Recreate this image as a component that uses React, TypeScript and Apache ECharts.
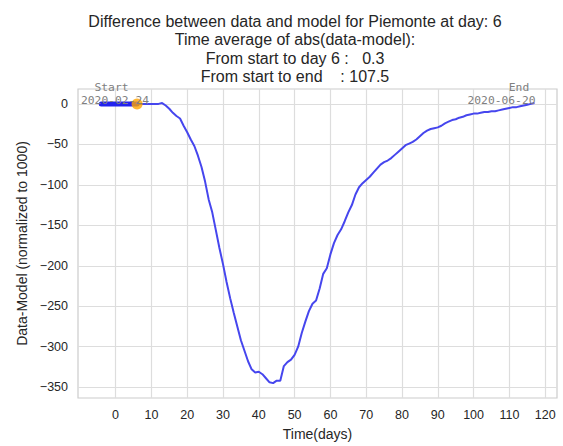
import React, { useEffect, useRef } from "react";
import * as echarts from "echarts";

const days: number[] = [];
for (let d = -4; d <= 117; d++) days.push(d);

const diffValues: number[] = [
  0, 0, 0, 0, 0, 0, 0, 0, 0, 0, // -4..5
  0, 0, 0, 0, 0, 0, 0, 1, -2, -6, // 6..15
  -11, -15, -18, -27, -35, -44, -52, -64, -78, -96, // 16..25
  -118, -134, -156, -178, -198, -220, -240, -258, -275, -292, // 26..35
  -305, -318, -328, -332, -331, -334, -339, -344, -345, -342, // 36..45
  -342, -324, -319, -316, -310, -300, -283, -269, -256, -247, // 46..55
  -243, -228, -210, -203, -186, -172, -162, -155, -145, -134, // 56..65
  -125, -112, -103, -98, -94, -90, -85, -80, -75, -72, // 66..75
  -70, -67, -63, -59, -55, -51, -49, -47, -44, -40, // 76..85
  -36, -33, -31, -30, -29, -27, -24, -22, -20, -19, // 86..95
  -17, -16, -14, -13, -12, -12, -11, -10, -10, -9, // 96..105
  -9, -8, -7, -6, -5, -4, -4, -3, -2, -1, // 106..115
  0, 1, // 116..117
];

const currentDay = 6;
const xTicks = [0, 10, 20, 30, 40, 50, 60, 70, 80, 90, 100, 110, 120];
const yTicks = [0, -50, -100, -150, -200, -250, -300, -350];
const titleLines = [
  "Difference between data and model for Piemonte at day: 6",
  "Time average of abs(data-model):",
  "From start to day 6 :   0.3",
  "From start to end    : 107.5",
];
const startLabels = ["Start", "2020-02-24"];
const endLabels = ["End", "2020-06-20"];

const FONT = "'Liberation Sans', Arial, sans-serif";
const MONO = "'DejaVu Sans Mono', monospace";

export default function App() {
  const ref = useRef<HTMLDivElement>(null);
  useEffect(() => {
    if (!ref.current) return;
    const chart = echarts.init(ref.current, undefined, { renderer: "svg" });
    const full = days.map((d, i) => [d, diffValues[i]]);
    const upto = full.filter((p) => p[0] <= currentDay);
    const dot = full.filter((p) => p[0] === currentDay);
    const titleY = [21, 39.5, 58, 76.5];
    chart.setOption({
      animation: false,
      backgroundColor: "#ffffff",
      grid: {
        left: 78,
        right: 6,
        top: 89,
        bottom: 44,
        show: true,
        borderColor: "#cccccc",
        borderWidth: 1.2,
        backgroundColor: "#ffffff",
      },
      xAxis: {
        type: "value",
        min: -10.5,
        max: 123.3,
        name: "Time(days)",
        nameLocation: "middle",
        nameGap: 29,
        nameTextStyle: { fontFamily: FONT, fontSize: 14, color: "#262626" },
        axisLine: { show: false },
        axisTick: { show: false, customValues: xTicks },
        axisLabel: {
          customValues: xTicks,
          fontFamily: FONT,
          fontSize: 12.5,
          color: "#262626",
          margin: 10,
        },
        splitLine: { show: true, lineStyle: { color: "#dddddd", width: 1.2 } },
      },
      yAxis: {
        type: "value",
        min: -363.4,
        max: 18.4,
        name: "Data-Model (normalized to 1000)",
        nameLocation: "middle",
        nameGap: 48,
        nameRotate: 90,
        nameTextStyle: { fontFamily: FONT, fontSize: 14, color: "#262626" },
        axisLine: { show: false },
        axisTick: { show: false, customValues: yTicks },
        axisLabel: {
          customValues: yTicks,
          fontFamily: FONT,
          fontSize: 12.5,
          color: "#262626",
          margin: 10,
          formatter: (v: number) => (v < 0 ? "\u2212" + Math.abs(v) : String(v)),
        },
        splitLine: { show: true, lineStyle: { color: "#dddddd", width: 1.2 } },
      },
      graphic: [
        ...titleLines.map((t, i) => ({
          type: "text",
          x: 295,
          y: titleY[i],
          style: {
            text: t,
            fontFamily: FONT,
            fontSize: 16,
            fill: "#262626",
            textAlign: "center",
            textVerticalAlign: "middle",
            whiteSpace: "pre",
          },
        })),
        {
          type: "text",
          x: 111.5,
          y: 87,
          z: 100,
          style: { text: startLabels[0], fontFamily: MONO, fontSize: 11.3, fill: "#808080", textAlign: "center", textVerticalAlign: "middle" },
        },
        {
          type: "text",
          x: 115,
          y: 100,
          z: 100,
          style: { text: startLabels[1], fontFamily: MONO, fontSize: 11.3, fill: "#808080", textAlign: "center", textVerticalAlign: "middle" },
        },
        {
          type: "text",
          x: 519,
          y: 87,
          z: 100,
          style: { text: endLabels[0], fontFamily: MONO, fontSize: 11.3, fill: "#808080", textAlign: "center", textVerticalAlign: "middle" },
        },
        {
          type: "text",
          x: 501.5,
          y: 100.5,
          z: 100,
          style: { text: endLabels[1], fontFamily: MONO, fontSize: 11.3, fill: "#808080", textAlign: "center", textVerticalAlign: "middle" },
        },
      ],
      series: [
        {
          type: "line",
          data: full,
          showSymbol: false,
          lineStyle: { color: "#4646ee", width: 2 },
          z: 2,
        },
        {
          type: "line",
          data: upto,
          showSymbol: false,
          lineStyle: { color: "#2222ee", width: 5, cap: "round" },
          z: 3,
        },
        {
          type: "scatter",
          data: dot,
          symbolSize: 11,
          itemStyle: { color: "#ffa500" },
          z: 4,
        },
      ],
    });
    return () => chart.dispose();
  }, []);
  return (
    <div
      ref={ref}
      style={{ position: "fixed", left: 0, top: 0, width: 563, height: 446 }}
    />
  );
}
